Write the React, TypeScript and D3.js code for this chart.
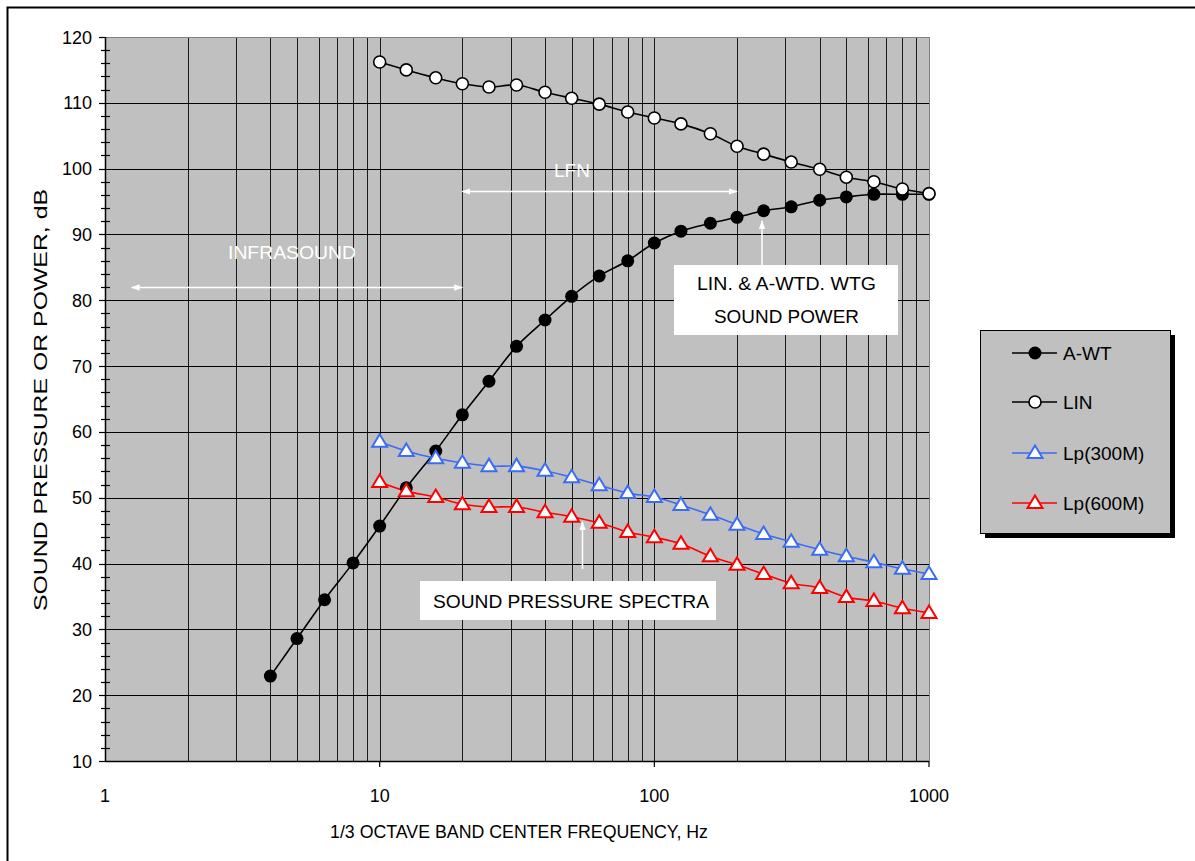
import React, { useEffect, useRef } from 'react';
import * as d3 from 'd3';

// 1/3 octave band centres, Hz
const freqs = [4, 5, 6.3, 8, 10, 12.5, 16, 20, 25, 31.5, 40, 50, 63, 80, 100, 125, 160, 200, 250, 315, 400, 500, 630, 800, 1000];
const aWt = [22.9, 28.6, 34.5, 40.1, 45.7, 51.5, 57.1, 62.6, 67.7, 73.0, 77.0, 80.6, 83.7, 86.0, 88.7, 90.5, 91.7, 92.6, 93.6, 94.2, 95.2, 95.7, 96.1, 96.1, 96.1];
const linFreqs = freqs.slice(4);
const lin = [116.2, 115.0, 113.8, 112.9, 112.4, 112.7, 111.6, 110.7, 109.8, 108.6, 107.7, 106.8, 105.3, 103.4, 102.2, 101.0, 99.9, 98.7, 98.0, 96.9, 96.2];
const lp300 = [58.5, 57.1, 56.0, 55.3, 54.8, 54.8, 54.1, 53.1, 51.9, 50.7, 50.1, 48.9, 47.4, 45.9, 44.5, 43.3, 42.1, 41.1, 40.2, 39.2, 38.4];
const lp600 = [52.4, 51.0, 50.1, 49.0, 48.6, 48.6, 47.8, 47.1, 46.2, 44.8, 44.0, 43.0, 41.1, 39.8, 38.4, 37.0, 36.3, 34.9, 34.3, 33.2, 32.5];
const xTicks = [1, 10, 100, 1000];
const yTicks = [10, 20, 30, 40, 50, 60, 70, 80, 90, 100, 110, 120];
const legendNames = ['A-WT', 'LIN', 'Lp(300M)', 'Lp(600M)'];

const FONT = '"Liberation Sans", Arial, sans-serif';
const BLUE = '#3a6cf4';
const RED = '#ff0000';

export default function App() {
  const ref = useRef<SVGSVGElement | null>(null);

  useEffect(() => {
    const svg = d3.select(ref.current);
    svg.selectAll('*').remove();

    const left = 105, right = 929, top = 37, bottom = 761;
    const x = d3.scaleLog().domain([1, 1000]).range([left, right]);
    const y = d3.scaleLinear().domain([10, 120]).range([bottom, top]);

    // outer frame (cropped on right / bottom)
    svg.append('rect').attr('x', 7.5).attr('y', 7.5).attr('width', 1220).attr('height', 900)
      .attr('fill', '#fff').attr('stroke', '#000').attr('stroke-width', 2);

    // plot area
    svg.append('rect').attr('x', left).attr('y', top).attr('width', right - left).attr('height', bottom - top)
      .attr('fill', '#c0c0c0');

    // vertical grid
    const vLines: number[] = [];
    for (let dec = 1; dec < 1000; dec *= 10) {
      for (let k = 1; k <= 9; k++) vLines.push(dec * k);
    }
    svg.append('g').selectAll('line').data(vLines.filter(v => v > 1 && v < 1000)).enter().append('line')
      .attr('x1', d => Math.round(x(d)) + 0.5).attr('x2', d => Math.round(x(d)) + 0.5)
      .attr('y1', top).attr('y2', bottom)
      .attr('stroke', '#1a1a1a').attr('stroke-width', 1);

    // horizontal grid
    svg.append('g').selectAll('line').data(yTicks.filter(v => v > 10 && v < 120)).enter().append('line')
      .attr('x1', left).attr('x2', right)
      .attr('y1', d => Math.round(y(d)) + 0.5).attr('y2', d => Math.round(y(d)) + 0.5)
      .attr('stroke', '#000').attr('stroke-width', 1);

    svg.append('line').attr('x1', left).attr('x2', right).attr('y1', top + 0.5).attr('y2', top + 0.5).attr('stroke', '#808080');
    svg.append('line').attr('x1', right + 0.5).attr('x2', right + 0.5).attr('y1', top).attr('y2', bottom).attr('stroke', '#808080');

    // axes
    const yAxisG = svg.append('g');
    yAxisG.append('line').attr('x1', left + 0.5).attr('x2', left + 0.5).attr('y1', top).attr('y2', bottom).attr('stroke', '#000').attr('stroke-width', 1.5);
    const minor = d3.range(12, 120, 2).filter(v => v % 10 !== 0);
    yAxisG.selectAll('line.minor').data(minor).enter().append('line').attr('class', 'minor')
      .attr('x1', left - 4).attr('x2', left + 5)
      .attr('y1', d => Math.round(y(d)) + 0.5).attr('y2', d => Math.round(y(d)) + 0.5)
      .attr('stroke', '#000').attr('stroke-width', 1.2);
    yAxisG.selectAll('line.major').data(yTicks).enter().append('line').attr('class', 'major')
      .attr('x1', left - 6).attr('x2', left)
      .attr('y1', d => Math.round(y(d)) + 0.5).attr('y2', d => Math.round(y(d)) + 0.5)
      .attr('stroke', '#000').attr('stroke-width', 1.2);
    yAxisG.selectAll('text').data(yTicks).enter().append('text')
      .attr('x', left - 13).attr('y', d => y(d) + 6.5)
      .attr('text-anchor', 'end').attr('font-family', FONT).attr('font-size', 18)
      .text(d => d);

    const xAxisG = svg.append('g');
    xAxisG.append('line').attr('x1', left).attr('x2', right).attr('y1', bottom + 0.5).attr('y2', bottom + 0.5).attr('stroke', '#000').attr('stroke-width', 1.5);
    xAxisG.selectAll('line').data(xTicks).enter().append('line')
      .attr('x1', d => x(d)).attr('x2', d => x(d)).attr('y1', bottom).attr('y2', bottom + 6)
      .attr('stroke', '#000').attr('stroke-width', 1.2);
    xAxisG.selectAll('text').data(xTicks).enter().append('text')
      .attr('x', d => x(d)).attr('y', 802)
      .attr('text-anchor', 'middle').attr('font-family', FONT).attr('font-size', 18)
      .text(d => d);

    svg.append('text').attr('x', 519).attr('y', 838).attr('text-anchor', 'middle')
      .attr('font-family', FONT).attr('font-size', 18)
      .attr('textLength', 378).attr('lengthAdjust', 'spacingAndGlyphs')
      .text('1/3 OCTAVE BAND CENTER FREQUENCY, Hz');
    svg.append('text').attr('transform', 'translate(47,400) rotate(-90)').attr('text-anchor', 'middle')
      .attr('font-family', FONT).attr('font-size', 18)
      .attr('textLength', 422).attr('lengthAdjust', 'spacingAndGlyphs')
      .text('SOUND PRESSURE OR POWER, dB');

    // white annotations
    const defs = svg.append('defs');
    defs.append('marker').attr('id', 'wArrow').attr('viewBox', '0 0 10 10').attr('refX', 9).attr('refY', 5)
      .attr('markerWidth', 6).attr('markerHeight', 6).attr('orient', 'auto-start-reverse')
      .append('path').attr('d', 'M0,1.5 L10,5 L0,8.5 Z').attr('fill', '#fff');

    const arrow = (x1: number, y1: number, x2: number, y2: number, both: boolean) => {
      const l = svg.append('line').attr('x1', x1).attr('y1', y1).attr('x2', x2).attr('y2', y2)
        .attr('stroke', '#fff').attr('stroke-width', 1.5).attr('marker-end', 'url(#wArrow)');
      if (both) l.attr('marker-start', 'url(#wArrow)');
    };
    arrow(x(1.25), 287.5, x(20), 287.5, true);
    svg.append('text').attr('x', 292).attr('y', 259).attr('text-anchor', 'middle').attr('fill', '#fff')
      .attr('font-family', FONT).attr('font-size', 19).attr('textLength', 128).attr('lengthAdjust', 'spacingAndGlyphs')
      .text('INFRASOUND');
    arrow(x(20), 191.5, x(200), 191.5, true);
    svg.append('text').attr('x', 572).attr('y', 177).attr('text-anchor', 'middle').attr('fill', '#fff')
      .attr('font-family', FONT).attr('font-size', 19).text('LFN');

    // series lines
    const line = d3.line<[number, number]>().x(d => x(d[0])).y(d => y(d[1])).curve(d3.curveCatmullRom.alpha(0.5));
    const series = [
      { f: freqs, v: aWt, color: '#000', marker: 'dot' },
      { f: linFreqs, v: lin, color: '#000', marker: 'circle' },
      { f: linFreqs, v: lp300, color: BLUE, marker: 'tri' },
      { f: linFreqs, v: lp600, color: RED, marker: 'tri' },
    ];
    series.forEach(s => {
      const pts = s.f.map((f, i) => [f, s.v[i]] as [number, number]);
      svg.append('path').attr('d', line(pts) as string).attr('fill', 'none')
        .attr('stroke', s.color).attr('stroke-width', 1.6);
    });
    const triPath = 'M0,-7.5 L7.5,5 L-7.5,5 Z';
    const drawMarker = (g: any, kind: string, color: string, cx: number, cy: number) => {
      if (kind === 'dot') {
        g.append('circle').attr('cx', cx).attr('cy', cy).attr('r', 6.5).attr('fill', '#000');
      } else if (kind === 'circle') {
        g.append('circle').attr('cx', cx).attr('cy', cy).attr('r', 6).attr('fill', '#fff').attr('stroke', '#000').attr('stroke-width', 1.6);
      } else {
        g.append('path').attr('d', triPath).attr('transform', `translate(${cx},${cy})`)
          .attr('fill', '#fff').attr('stroke', color).attr('stroke-width', 2);
      }
    };
    series.forEach(s => {
      const g = svg.append('g');
      s.f.forEach((f, i) => drawMarker(g, s.marker, s.color, x(f), y(s.v[i])));
    });

    // callout boxes
    arrow(762, 265, 762, 221, false);
    svg.append('rect').attr('x', 674).attr('y', 265).attr('width', 224).attr('height', 70).attr('fill', '#fff');
    svg.append('text').attr('x', 786.5).attr('y', 290).attr('text-anchor', 'middle')
      .attr('font-family', FONT).attr('font-size', 19).attr('textLength', 179).attr('lengthAdjust', 'spacingAndGlyphs')
      .text('LIN. & A-WTD. WTG');
    svg.append('text').attr('x', 786.5).attr('y', 323).attr('text-anchor', 'middle')
      .attr('font-family', FONT).attr('font-size', 19).attr('textLength', 145).attr('lengthAdjust', 'spacingAndGlyphs')
      .text('SOUND POWER');

    arrow(582.5, 569, 582.5, 522, false);
    svg.append('rect').attr('x', 420).attr('y', 581).attr('width', 296).attr('height', 39).attr('fill', '#fff');
    svg.append('text').attr('x', 571).attr('y', 608).attr('text-anchor', 'middle')
      .attr('font-family', FONT).attr('font-size', 19).attr('textLength', 276).attr('lengthAdjust', 'spacingAndGlyphs')
      .text('SOUND PRESSURE SPECTRA');

    // legend
    const lg = svg.append('g');
    lg.append('rect').attr('x', 985).attr('y', 335).attr('width', 190).attr('height', 203).attr('fill', '#000');
    lg.append('rect').attr('x', 980.5).attr('y', 330.5).attr('width', 190).attr('height', 203)
      .attr('fill', '#c0c0c0').attr('stroke', '#000').attr('stroke-width', 1);
    const rowY = [353, 402, 453, 503];
    series.forEach((s, i) => {
      lg.append('line').attr('x1', 1012).attr('x2', 1057).attr('y1', rowY[i]).attr('y2', rowY[i])
        .attr('stroke', s.color).attr('stroke-width', 1.6);
      drawMarker(lg, s.marker, s.color, 1035, rowY[i]);
      lg.append('text').attr('x', 1063).attr('y', rowY[i] + 7).attr('font-family', FONT).attr('font-size', 19)
        .text(legendNames[i]);
    });
  }, []);

  return (
    <div style={{ position: 'absolute', left: 0, top: 0 }}>
      <svg ref={ref} width={1195} height={861} style={{ display: 'block' }}></svg>
    </div>
  );
}
